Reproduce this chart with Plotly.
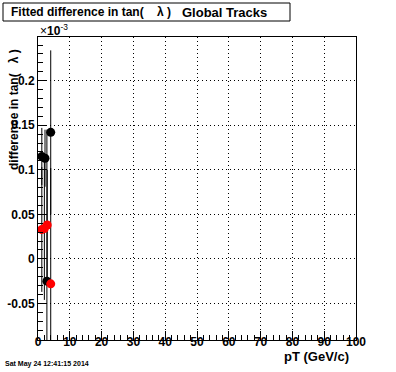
import plotly.graph_objects as go

# Data (values in units of 1e-3)
black_pt = [1.2, 2.2, 2.8, 4.0]
black_val = [0.115, 0.113, -0.025, 0.142]
black_err = [0.032, 0.032, 0.17, 0.092]

red_pt = [1.2, 2.0, 2.9, 4.0]
red_val = [0.033, 0.034, 0.038, -0.028]
red_err = [0.07, 0.08, 0.062, 0.13]

x_ticks = [0, 10, 20, 30, 40, 50, 60, 70, 80, 90, 100]
y_ticks = [-0.05, 0, 0.05, 0.1, 0.15, 0.2]
y_tick_text = ["-0.05", "0", "0.05", "0.1", "0.15", "0.2"]

W, H = 396, 372
L, R, T, B = 38, 40, 37, 32
pw, ph = W - L - R, H - T - B

def px(x):
    return (x - L) / pw

def py(y):
    return 1 - (y - T) / ph

FONT = "Liberation Sans, Arial, sans-serif"

fig = go.Figure()
fig.add_trace(go.Scatter(
    x=black_pt, y=black_val, mode="markers",
    marker=dict(color="black", size=9, symbol="circle"),
    error_y=dict(type="data", array=black_err, color="black", thickness=1, width=0),
    showlegend=False))
fig.add_trace(go.Scatter(
    x=red_pt, y=red_val, mode="markers",
    marker=dict(color="red", size=9, symbol="circle"),
    error_y=dict(type="data", array=red_err, color="black", thickness=1, width=0),
    showlegend=False))

axis_common = dict(
    showline=True, linecolor="black", linewidth=1, mirror=True,
    showgrid=True, gridcolor="black", griddash="1px,3px", gridwidth=1,
    zeroline=False, ticks="inside", tickcolor="black", automargin=False,
    tickfont=dict(family=FONT, size=12, color="black", weight="bold"),
)

fig.update_layout(
    width=W, height=H, margin=dict(l=L, r=R, t=T, b=B),
    paper_bgcolor="white", plot_bgcolor="white",
    xaxis=dict(range=[0, 100], tickvals=x_ticks, ticklen=9, ticklabelstandoff=-9,
               minor=dict(dtick=2, ticklen=5, ticks="inside", tickcolor="black", showgrid=False),
               **axis_common),
    yaxis=dict(range=[-0.091, 0.249], tickvals=y_ticks, ticktext=y_tick_text, ticklen=9,
               minor=dict(dtick=0.01, ticklen=5, ticks="inside", tickcolor="black", showgrid=False),
               **axis_common),
    font=dict(family=FONT, color="black"),
)

# Title box
fig.add_shape(type="rect", xref="paper", yref="paper",
              x0=px(3), x1=px(290), y0=py(21), y1=py(3),
              line=dict(color="black", width=1), fillcolor="white")
fig.add_annotation(xref="paper", yref="paper", x=px(9), y=py(12),
                   xanchor="left", yanchor="middle", showarrow=False,
                   text="Fitted difference in tan(&#160;&#160;&#160;&#160;λ )",
                   font=dict(family=FONT, size=12, color="black", weight="bold"))
fig.add_annotation(xref="paper", yref="paper", x=px(180), y=py(12),
                   xanchor="left", yanchor="middle", showarrow=False,
                   text="Global Tracks",
                   font=dict(family=FONT, size=13, color="black", weight="bold"))

# Y title
fig.add_annotation(xref="paper", yref="paper", x=px(14), y=py(110),
                   xanchor="center", yanchor="middle", showarrow=False, textangle=-90,
                   text="difference in tan(&#160;&#160;&#160;λ )",
                   font=dict(family=FONT, size=12, color="black", weight="bold"))

# Exponent label
fig.add_annotation(xref="paper", yref="paper", x=px(38), y=py(30),
                   xanchor="left", yanchor="middle", showarrow=False,
                   text="×<b>10</b><sup>-3</sup>",
                   font=dict(family=FONT, size=12, color="black"))

# X title
fig.add_annotation(xref="paper", yref="paper", x=px(351), y=py(357),
                   xanchor="right", yanchor="middle", showarrow=False,
                   text="pT (GeV/c)",
                   font=dict(family=FONT, size=13, color="black", weight="bold"))

# Date
fig.add_annotation(xref="paper", yref="paper", x=px(3), y=py(364),
                   xanchor="left", yanchor="middle", showarrow=False,
                   text="Sat May 24 12:41:15 2014",
                   font=dict(family=FONT, size=7, color="black", weight="bold"))

fig.write_html("out.html", config={"displayModeBar": False},
               post_script="document.body.style.margin='0';")
